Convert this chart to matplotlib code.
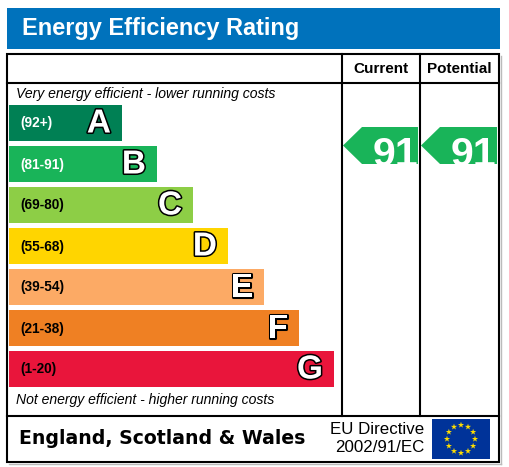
import matplotlib
matplotlib.use("Agg")
import matplotlib.pyplot as plt
from matplotlib.patches import Rectangle, Polygon
import matplotlib.patheffects as pe
import numpy as np

# ---- data ----
bands = ["A", "B", "C", "D", "E", "F", "G"]
ranges = ["(92+)", "(81-91)", "(69-80)", "(55-68)", "(39-54)", "(21-38)", "(1-20)"]
colors = ["#008054", "#19b459", "#8dce46", "#ffd500", "#fcaa65", "#ef8023", "#e9153b"]
range_text_colors = ["white", "white", "black", "black", "black", "black", "black"]
bar_right = [122, 157, 193, 228, 264, 299, 334]
current_rating = 91
potential_rating = 91
title = "Energy Efficiency Rating"
col_labels = ["Current", "Potential"]
top_note = "Very energy efficient - lower running costs"
bottom_note = "Not energy efficient - higher running costs"
footer_left = "England, Scotland & Wales"
footer_right = ["EU Directive", "2002/91/EC"]

W, H = 509, 467
fig = plt.figure(figsize=(W / 100, H / 100), dpi=100)
ax = fig.add_axes([0, 0, 1, 1])
ax.set_xlim(0, W)
ax.set_ylim(H, 0)
ax.axis("off")

sans = ["Liberation Sans", "DejaVu Sans"]
lw = 1.5

# title band
ax.add_patch(Rectangle((7, 8), 493, 41, facecolor="#0072bc", edgecolor="none"))
ax.text(22, 29, title, color="white", fontsize=16.9, fontweight="bold",
        family=sans, ha="left", va="center")

# main box
ax.add_patch(Rectangle((7.5, 54), 491.5, 408, facecolor="white", edgecolor="black", lw=lw, zorder=3, fill=False))
ax.plot([501, 501], [56, 464], color="#bbbbbb", lw=1)
ax.plot([9, 501], [464, 464], color="#bbbbbb", lw=1)
ax.plot([7.5, 499], [83, 83], color="black", lw=lw)
ax.plot([7.5, 499], [416, 416], color="black", lw=lw)
col_x = [342, 420, 499]
for x in col_x[:2]:
    ax.plot([x, x], [54, 416], color="black", lw=lw)

for i, lab in enumerate(col_labels):
    cx = (col_x[i] + col_x[i + 1]) / 2
    ax.text(cx, 69, lab, fontsize=11, fontweight="bold", family=sans,
            ha="center", va="center")

ax.text(16, 94, top_note, fontsize=10.1, style="italic", family=sans, ha="left", va="center")
ax.text(16, 400, bottom_note, fontsize=10.1, style="italic", family=sans, ha="left", va="center")

# bars
y0, pitch, bh = 105, 41, 36
for i, b in enumerate(bands):
    y = y0 + i * pitch
    ax.add_patch(Rectangle((9, y), bar_right[i] - 9, bh, facecolor=colors[i], edgecolor="none"))
    ax.text(20, y + bh / 2 + 0.5, ranges[i], fontsize=9.8, fontweight="bold", family=sans,
            color=range_text_colors[i], ha="left", va="center")
    ax.text(bar_right[i] - 11, y + bh / 2 + 1, b, fontsize=24, fontweight="bold", family=sans,
            color="white", ha="right", va="center",
            path_effects=[pe.Stroke(linewidth=2.2, foreground="black"), pe.Normal()])

# rating arrows
def arrow(left, right, rating):
    top, bot = 127, 164
    mid = (top + bot) / 2
    tipw = 19
    poly = Polygon([(left + 1, mid), (left + 1 + tipw, top), (right, top), (right, bot), (left + 1 + tipw, bot)],
                   closed=True, facecolor="#19b459", edgecolor="none")
    ax.add_patch(poly)
    t = ax.text(left + 31, 166.5, str(rating), fontsize=29.5, fontweight="bold", family=sans,
                color="white", ha="left", va="baseline")
    clip = Rectangle((left, 54), right - left, 362, transform=ax.transData)
    t.set_clip_path(clip)

arrow(342, 418, current_rating)
arrow(420, 497, potential_rating)

# footer
ax.text(19, 438, footer_left, fontsize=13.6, fontweight="bold", family=["DejaVu Sans"],
        ha="left", va="center")
ax.text(424, 429, footer_right[0], fontsize=12.2, family=sans, ha="right", va="center")
ax.text(424, 447, footer_right[1], fontsize=12.2, family=sans, ha="right", va="center")

# EU flag
ax.add_patch(Rectangle((432, 419), 58, 40, facecolor="#003399", edgecolor="none"))
ang = np.linspace(0, 2 * np.pi, 12, endpoint=False)
ax.scatter(461 + 14 * np.cos(ang), 439 + 14 * np.sin(ang), marker="*", s=22,
           color="#ffdd00", edgecolors="none", zorder=5)

fig.savefig("out.png", dpi=100)
